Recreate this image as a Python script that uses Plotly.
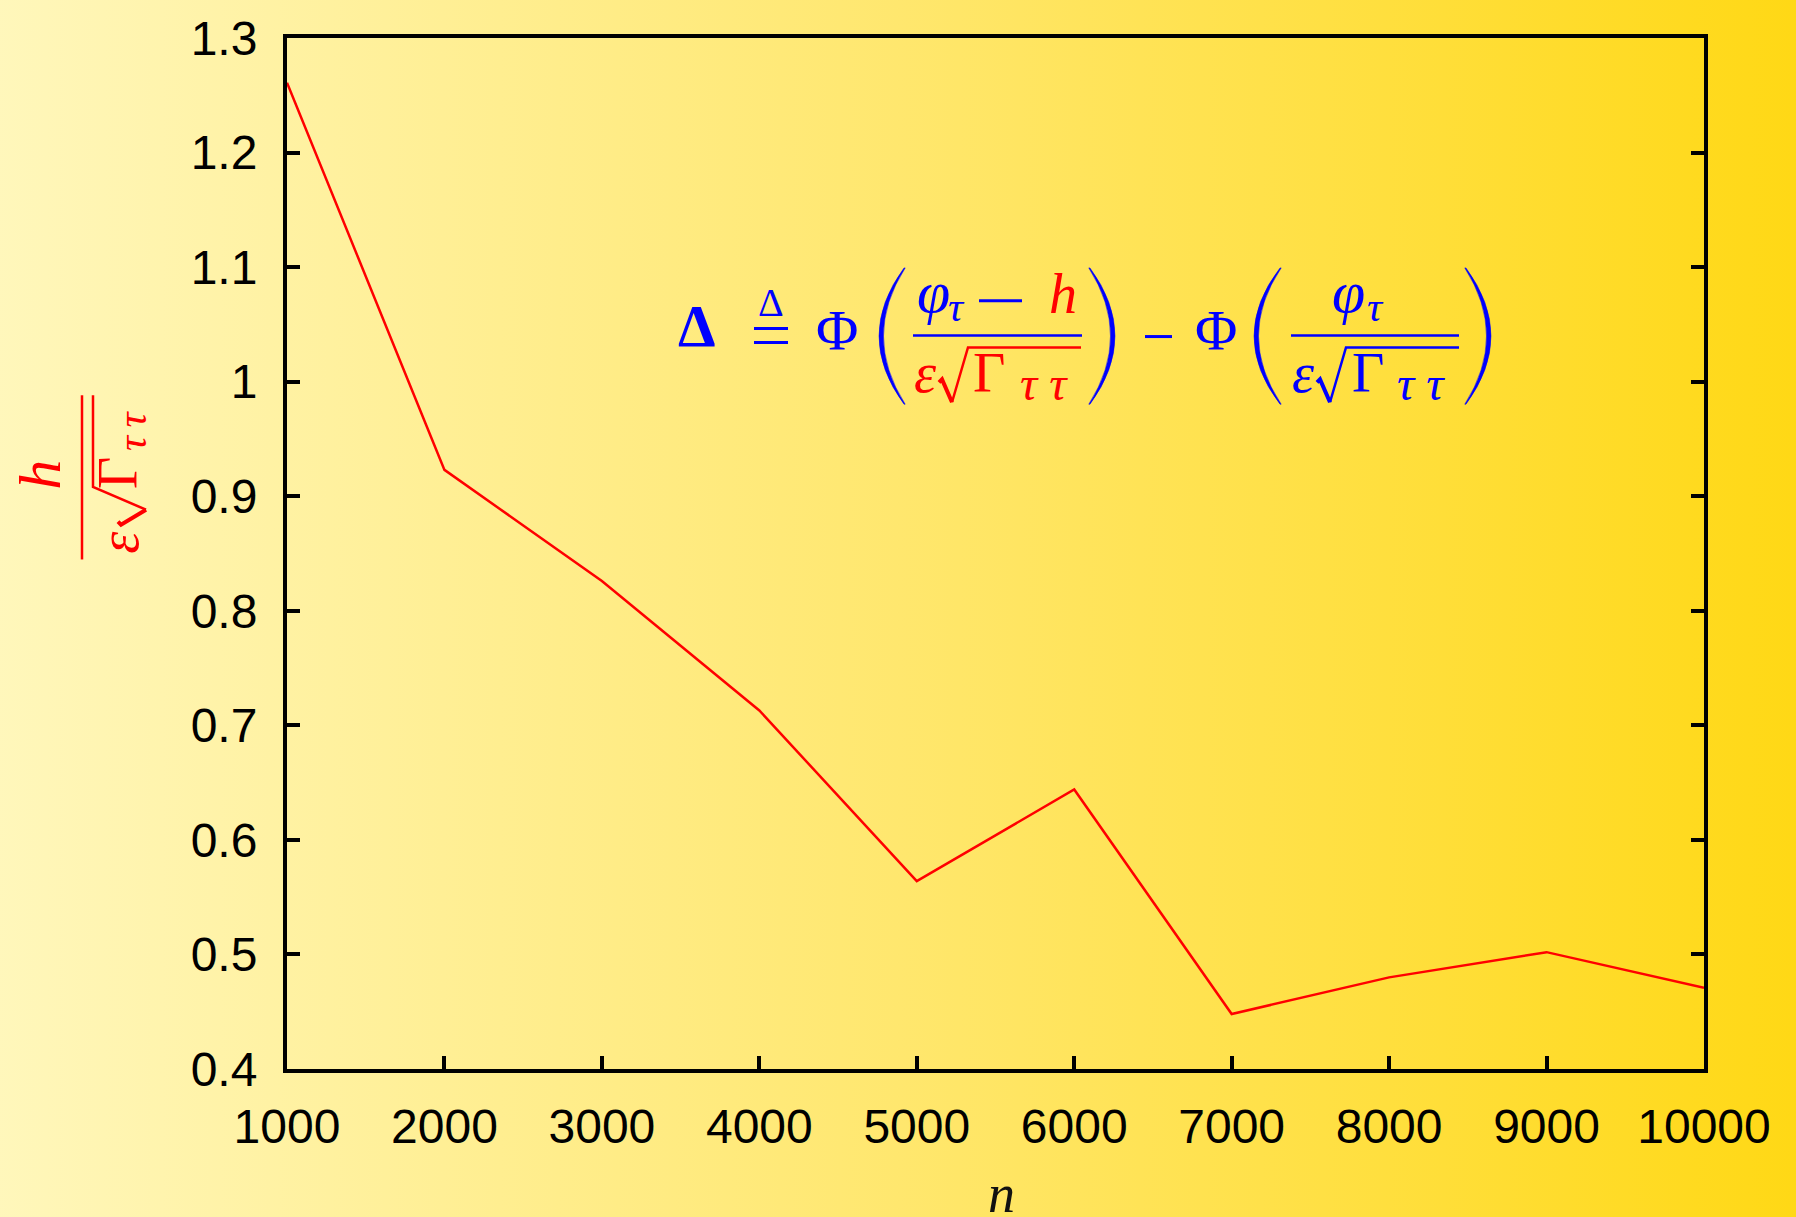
import base64
import plotly.graph_objects as go

# Sample sizes and the normalised threshold h / (eps * sqrt(Gamma_tt))
n_values = [1000, 2000, 3000, 4000, 5000, 6000, 7000, 8000, 9000, 10000]
ratio_values = [1.261, 0.923, 0.826, 0.713, 0.564, 0.644, 0.448, 0.480, 0.502, 0.471]

x_tick_vals = [1000, 2000, 3000, 4000, 5000, 6000, 7000, 8000, 9000, 10000]
x_tick_text = ["1000", "2000", "3000", "4000", "5000", "6000", "7000", "8000", "9000", "10000"]
y_tick_vals = [0.4, 0.5, 0.6, 0.7, 0.8, 0.9, 1.0, 1.1, 1.2, 1.3]
y_tick_text = ["0.4", "0.5", "0.6", "0.7", "0.8", "0.9", "1", "1.1", "1.2", "1.3"]

W, H = 1796, 1217
L, R, T, B = 287, 1704, 33, 1069
PW, PH = R - L, B - T

BLUE = "#0000FF"
RED = "#FF0000"
SERIF = "Liberation Serif"
ASC, DESC = 0.891, 0.216


def px(x):
    return (x - L) / PW


def py(y):
    return (B - y) / PH


def path(points, close=False):
    s = "M" + " L".join(f"{px(x):.5f},{py(y):.5f}" for x, y in points)
    return s + (" Z" if close else "")


annotations = []
shapes = []


def text(xc, base, s, size, color, italic=False, bold=False):
    """Place a glyph run centred at xc with its baseline at `base` (pixels)."""
    if italic:
        s = f"<i>{s}</i>"
    if bold:
        s = f"<b>{s}</b>"
    annotations.append(dict(
        x=px(xc), y=py(base - (ASC - DESC) / 2 * size), xref="paper", yref="paper",
        xanchor="center", yanchor="middle", showarrow=False, text=s, borderpad=0,
        font=dict(family=SERIF, size=size, color=color)))


def vtext(yc, base, s, size, color, italic=False):
    """Glyph run rotated to read bottom-to-top, baseline on the right at x=`base`."""
    if italic:
        s = f"<i>{s}</i>"
    annotations.append(dict(
        x=px(base - (ASC - DESC) / 2 * size), y=py(yc), xref="paper", yref="paper",
        xanchor="center", yanchor="middle", showarrow=False, text=s, textangle=-90,
        borderpad=0, font=dict(family=SERIF, size=size, color=color)))


def hline(x0, x1, y, color, w=2.5):
    shapes.append(dict(type="line", xref="paper", yref="paper", x0=px(x0), x1=px(x1),
                       y0=py(y), y1=py(y), line=dict(color=color, width=w)))


def vline(x, y0, y1, color, w=2.5):
    shapes.append(dict(type="line", xref="paper", yref="paper", x0=px(x), x1=px(x),
                       y0=py(y0), y1=py(y1), line=dict(color=color, width=w)))


def poly(points, color, w=2.5):
    shapes.append(dict(type="path", xref="paper", yref="paper", path=path(points),
                       line=dict(color=color, width=w)))


def paren(x_end, x_mid, y0, y1, color, left=True):
    """Tapered delimiter built from two quadratic curves."""
    ym = (y0 + y1) / 2
    d = 1 if left else -1
    thick, thin = 4.5, 1.2
    cx_out = 2 * x_mid - x_end
    xe_in = x_end + d * thin
    cx_in = 2 * (x_mid + d * thick) - xe_in
    p = (f"M{px(x_end):.5f},{py(y0):.5f} Q{px(cx_out):.5f},{py(ym):.5f} {px(x_end):.5f},{py(y1):.5f} "
         f"L{px(xe_in):.5f},{py(y1):.5f} Q{px(cx_in):.5f},{py(ym):.5f} {px(xe_in):.5f},{py(y0):.5f} Z")
    shapes.append(dict(type="path", xref="paper", yref="paper", path=p,
                       fillcolor=color, line=dict(color=color, width=0.5)))


def radical(x_top, y_top, x_bot, y_bot, x_end, color):
    """Square-root sign with its vinculum running to x_end."""
    poly([(x_bot, y_bot), (x_top, y_top), (x_end, y_top)], color, 2.5)
    poly([(x_bot - 13, y_bot - 20), (x_bot - 10, y_bot - 23), (x_bot, y_bot)], color, 4)


# ---- formula in the plot area ----
S = 56
SUB = 42
TT = 48
text(697, 343, "Δ", 60, BLUE, bold=True)
text(771, 312, "Δ", 40, BLUE)
hline(754, 788, 325, BLUE, 3)
hline(754, 788, 339, BLUE, 3)
text(837, 346, "Φ", 58, BLUE)
paren(904, 879, 264, 401, BLUE, left=True)

# first fraction: (phi_tau - h) / (eps sqrt(Gamma_tt))
text(933, 308, "φ", 60, BLUE, italic=True)
text(956, 317, "τ", SUB, BLUE, italic=True)
hline(979, 1022, 297, BLUE, 3)
text(1063, 309, "h", S, RED, italic=True)
hline(913, 1082, 332, BLUE)
text(925, 389, "ε", S, RED, italic=True)
radical(968, 344, 952, 399, 1081, RED)
text(989, 389, "Γ", S, RED)
text(1044, 396, "τ τ", TT, RED, italic=True)
paren(1090, 1115, 264, 401, BLUE, left=False)

hline(1145, 1172, 333, BLUE, 3)
text(1216, 346, "Φ", 58, BLUE)
paren(1280, 1254, 264, 401, BLUE, left=True)

# second fraction: phi_tau / (eps sqrt(Gamma_tt))
text(1348, 308, "φ", 60, BLUE, italic=True)
text(1375, 317, "τ", SUB, BLUE, italic=True)
hline(1291, 1459, 332, BLUE)
text(1303, 389, "ε", S, BLUE, italic=True)
radical(1346, 344, 1330, 399, 1459, BLUE)
text(1368, 389, "Γ", S, BLUE)
text(1421, 396, "τ τ", TT, BLUE, italic=True)
paren(1466, 1491, 264, 401, BLUE, left=False)

# ---- y-axis title: h / (eps sqrt(Gamma_tt)), rotated ----
vtext(472, 60, "h", 60, RED, italic=True)
vline(82, 392, 557, RED)
vtext(540, 137, "ε", 56, RED, italic=True)
vtext(470, 137, "Γ", 56, RED)
vtext(428, 146, "τ\u2009τ", 42, RED, italic=True)
poly([(146, 507), (93, 484), (93, 392)], RED, 2.5)
poly([(118, 519), (121, 522), (146, 507)], RED, 4)

# ---- x-axis title ----
text(1001, 1213, "n", 54, "#111111", italic=True)

# ---- background gradient ----
svg = (f'<svg xmlns="http://www.w3.org/2000/svg" width="{W}" height="{H}" preserveAspectRatio="none">'
       '<defs><linearGradient id="g" x1="0" y1="0" x2="1" y2="0">'
       '<stop offset="0" stop-color="#FFF7BC"/><stop offset="0.5" stop-color="#FFE76E"/>'
       '<stop offset="1" stop-color="#FFD814"/></linearGradient></defs>'
       f'<rect width="{W}" height="{H}" fill="url(#g)"/></svg>')
bg_src = "data:image/svg+xml;base64," + base64.b64encode(svg.encode()).decode()
EXT = 12  # bleed so the gradient covers the page edges completely

fig = go.Figure()
fig.add_trace(go.Scatter(x=n_values, y=ratio_values, mode="lines",
                         line=dict(color=RED, width=2.5), showlegend=False,
                         hoverinfo="x+y"))

axis_common = dict(
    showgrid=False, zeroline=False, showline=True, linecolor="black", linewidth=4,
    ticks="inside", ticklen=13, tickwidth=4, tickcolor="black",
    tickfont=dict(family="Liberation Sans", size=48, color="black"),
)

fig.update_layout(
    width=W, height=H,
    margin=dict(l=L, r=W - R, t=T, b=H - B, pad=0),
    paper_bgcolor="#FFE76E",
    plot_bgcolor="rgba(0,0,0,0)",
    xaxis=dict(range=[1000, 10000], tickvals=x_tick_vals, ticktext=x_tick_text,
               mirror=True, ticklabelstandoff=12, **axis_common),
    yaxis=dict(range=[0.4, 1.3], tickvals=y_tick_vals, ticktext=y_tick_text,
               mirror="ticks", ticklabelstandoff=16, **axis_common),
    images=[dict(source=bg_src, xref="paper", yref="paper",
                 x=-(L + EXT) / PW, y=1 + (T + EXT) / PH,
                 sizex=(W + 2 * EXT) / PW, sizey=(H + 2 * EXT) / PH,
                 sizing="stretch", xanchor="left", yanchor="top", layer="below")],
    annotations=annotations,
    shapes=shapes,
)

fig.write_html("out.html")
